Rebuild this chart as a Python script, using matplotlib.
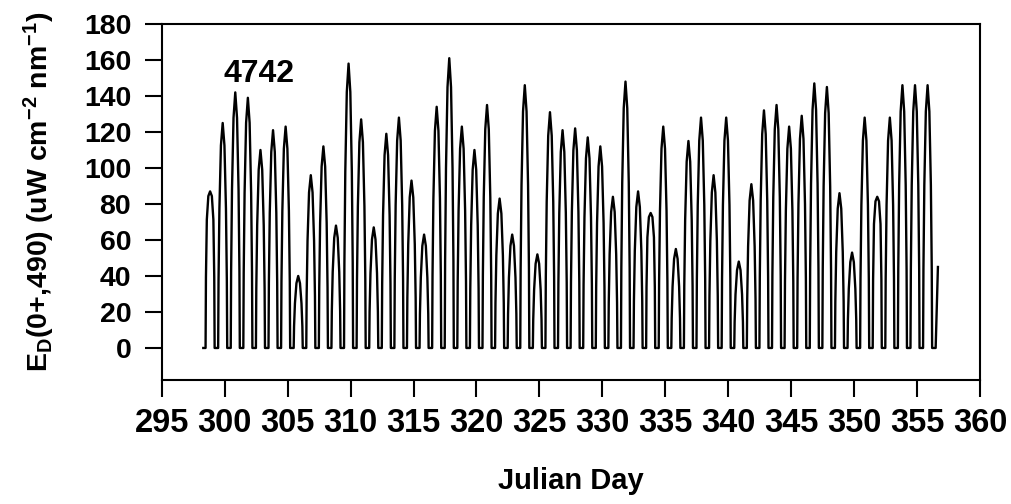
import numpy as np
import matplotlib
matplotlib.use("Agg")
import matplotlib.pyplot as plt

plt.rcParams['font.family'] = 'Liberation Sans'
plt.rcParams['font.weight'] = 'bold'
plt.rcParams['mathtext.fontset'] = 'custom'
plt.rcParams['mathtext.rm'] = 'Liberation Sans:bold'
plt.rcParams['mathtext.default'] = 'rm'

# daily noon peak of Ed(0+,490)
days = list(range(298, 356))
peaks = [87, 125, 142, 139, 110, 121, 123, 40, 96, 112,
         68, 158, 127, 67, 119, 128, 93, 63, 134, 161,
         123, 110, 135, 83, 63, 146, 52, 131, 121, 122,
         117, 112, 84, 148, 87, 75, 123, 55, 115, 128,
         96, 128, 48, 91, 132, 135, 123, 129, 147, 145,
         86, 53, 128, 84, 128, 146, 146, 146]
flat_days = [298, 333, 351]   # cloudy days with rounded tops

# diurnal shape: offset from local noon (day fraction) and fraction of peak
shape_offset = [-0.36, -0.33, -0.26, -0.14, 0.0, 0.14, 0.26, 0.33, 0.36]
shape_frac = [0, 0.3, 0.62, 0.9, 1.0, 0.9, 0.62, 0.3, 0]
flat_frac = [0, 0.45, 0.82, 0.97, 1.0, 0.97, 0.82, 0.45, 0]
noon = 0.84

# record start and the last, cut-off morning
start_t, start_v = [298.3], [0]
end_t, end_v = [356.48, 356.66], [0, 45]

t = list(start_t)
v = list(start_v)
for d, p in zip(days, peaks):
    frac = flat_frac if d in flat_days else shape_frac
    for off, f in zip(shape_offset, frac):
        t.append(d + noon + off)
        v.append(p * f)
t += end_t
v += end_v

fig = plt.figure(figsize=(10.11, 5.04), dpi=100)
ax = fig.add_axes([0.16, 0.246, 0.8093, 0.7064])
ax.plot(t, v, color='black', lw=1.7)

ax.set_xlim(295, 360)
ax.set_ylim(-17.8, 180)
ax.set_xticks(range(295, 361, 5))
ax.set_yticks(range(0, 181, 20))
for s in ax.spines.values():
    s.set_linewidth(1.5)
ax.tick_params(axis='both', direction='out', length=12, width=1.5)
ax.tick_params(axis='x', labelsize=23.5, pad=8)
ax.tick_params(axis='y', labelsize=20.5, pad=10)

ax.text(302.7, 152, '4742', ha='center', va='center', fontsize=23, fontweight='bold')

ax.set_xlabel('Julian Day', fontsize=21, fontweight='bold')
ax.xaxis.set_label_coords(0.5, -0.245)
ax.set_ylabel(r'E$_{D}$(0+,490) (uW cm$^{-2}$ nm$^{-1}$)', fontsize=20.5, fontweight='bold')
ax.yaxis.set_label_coords(-0.128, 0.53)

fig.savefig('out.png', dpi=100)
